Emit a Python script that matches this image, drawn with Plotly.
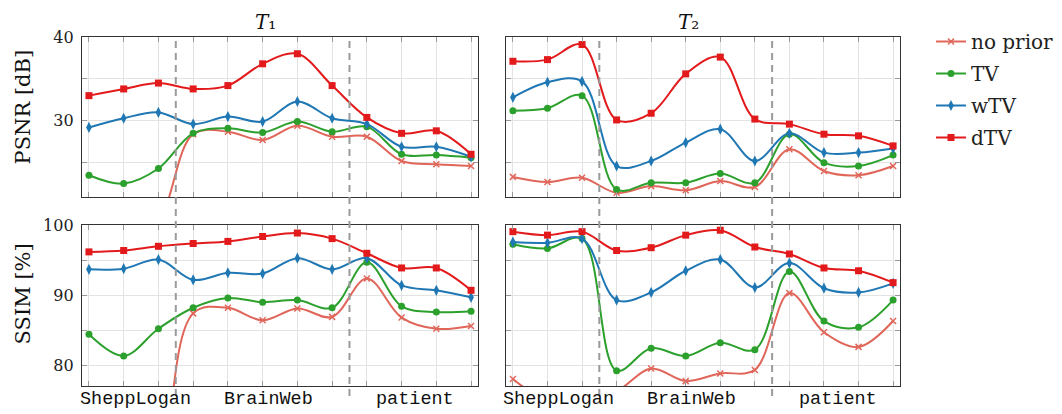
import plotly.graph_objects as go

# ---------------- data ----------------
x_idx = list(range(12))
series_names = ["no prior", "TV", "wTV", "dTV"]
series_colors = ["#e0665a", "#2ca02c", "#1f77b4", "#e31a1c"]
series_symbols = ["x-thin-open", "circle", "diamond-tall", "square"]
series_sizes = [6, 7, 8, 7]

psnr_t1_noprior = [16.0, 15.0, 18.0, 28.4, 28.7, 27.7, 29.4, 28.1, 28.1, 25.2, 24.8, 24.6]
psnr_t1_tv = [23.5, 22.5, 24.3, 28.5, 29.1, 28.6, 29.9, 28.7, 29.3, 26.0, 25.9, 25.6]
psnr_t1_wtv = [29.2, 30.3, 31.0, 29.6, 30.5, 29.9, 32.3, 30.3, 29.6, 26.9, 26.9, 25.7]
psnr_t1_dtv = [33.0, 33.8, 34.5, 33.8, 34.2, 36.8, 38.0, 34.2, 30.4, 28.5, 28.8, 26.0]

psnr_t2_noprior = [23.3, 22.7, 23.2, 21.4, 22.2, 21.7, 22.8, 22.1, 26.6, 24.0, 23.5, 24.6]
psnr_t2_tv = [31.2, 31.5, 33.0, 21.8, 22.6, 22.6, 23.7, 22.6, 28.4, 25.0, 24.6, 25.9]
psnr_t2_wtv = [32.8, 34.6, 34.7, 24.6, 25.2, 27.4, 29.0, 25.2, 28.5, 26.2, 26.2, 26.7]
psnr_t2_dtv = [37.1, 37.3, 39.1, 30.1, 30.9, 35.6, 37.6, 30.2, 29.6, 28.4, 28.2, 27.0]

ssim_t1_noprior = [55.0, 50.0, 62.0, 87.4, 88.2, 86.4, 88.1, 86.9, 92.4, 86.8, 85.2, 85.6]
ssim_t1_tv = [84.4, 81.3, 85.2, 88.2, 89.6, 89.0, 89.3, 88.2, 94.7, 88.4, 87.6, 87.7]
ssim_t1_wtv = [93.7, 93.8, 95.1, 92.2, 93.2, 93.1, 95.3, 93.7, 95.3, 91.4, 90.7, 89.7]
ssim_t1_dtv = [96.2, 96.4, 97.0, 97.4, 97.7, 98.4, 98.9, 98.1, 96.0, 93.9, 93.9, 90.7]

ssim_t2_noprior = [78.0, 75.0, 75.5, 76.3, 79.5, 77.7, 78.8, 79.3, 90.3, 84.7, 82.6, 86.3]
ssim_t2_tv = [97.3, 96.7, 98.1, 79.2, 82.4, 81.3, 83.2, 82.2, 93.4, 86.3, 85.4, 89.3]
ssim_t2_wtv = [97.6, 97.5, 98.1, 89.3, 90.4, 93.5, 95.1, 91.1, 94.6, 91.0, 90.4, 91.7]
ssim_t2_dtv = [99.1, 98.6, 99.1, 96.4, 96.8, 98.6, 99.3, 96.9, 95.9, 93.9, 93.5, 91.8]

group_labels = ["SheppLogan", "BrainWeb", "patient"]
group_label_pos = [1.33, 5.16, 9.4]
group_separators = [2.5, 7.5]

panel_titles = ["<i>T</i>₁", "<i>T</i>₂"]
psnr_ticks = [20, 30, 40]
psnr_minor = [25, 35]
ssim_ticks = [80, 90, 100]
ssim_minor = [85, 95]

panels = [
    ("x", "y", [psnr_t1_noprior, psnr_t1_tv, psnr_t1_wtv, psnr_t1_dtv]),
    ("x2", "y2", [psnr_t2_noprior, psnr_t2_tv, psnr_t2_wtv, psnr_t2_dtv]),
    ("x3", "y3", [ssim_t1_noprior, ssim_t1_tv, ssim_t1_wtv, ssim_t1_dtv]),
    ("x4", "y4", [ssim_t2_noprior, ssim_t2_tv, ssim_t2_wtv, ssim_t2_dtv]),
]

# ---------------- figure ----------------
# page body has an 8px margin: work in page pixels, convert to figure pixels
OFF = 8
W, H = 1062, 414
P_LEFT, P_RIGHT, P_TOP, P_BOTTOM = 82, 900, 37, 386   # plot-area bounds in page px
ML = P_LEFT - OFF
MT = P_TOP - OFF
MR = W - (P_RIGHT - OFF)
MB = H - (P_BOTTOM - OFF)
PW = P_RIGHT - P_LEFT
PH = P_BOTTOM - P_TOP


def px_x(p):
    return (p - P_LEFT) / PW


def px_y(p):
    return (P_BOTTOM - p) / PH


fig = go.Figure()
for pi, (xa, ya, data) in enumerate(panels):
    for si, vals in enumerate(data):
        fig.add_trace(go.Scatter(
            x=x_idx, y=vals, xaxis=xa, yaxis=ya,
            mode="lines+markers",
            name=series_names[si],
            legendgroup=series_names[si],
            showlegend=(pi == 0),
            line=dict(color=series_colors[si], width=2, shape="spline", smoothing=1.0),
            marker=dict(symbol=series_symbols[si], size=series_sizes[si],
                        color=series_colors[si],
                        line=dict(color=series_colors[si], width=1.5 if si == 0 else 0)),
            cliponaxis=True,
        ))

dom_x1 = [0, px_x(478)]
dom_x2 = [px_x(506), 1]
dom_y1 = [px_y(197), 1]
dom_y2 = [0, px_y(225)]

tickfont = dict(family="DejaVu Serif", size=16, color="#222")
common_x = dict(range=[-0.2, 11.2], tickvals=x_idx, showticklabels=False,
                showgrid=True, gridcolor="#e3e3e3", gridwidth=1,
                ticks="inside", ticklen=5, tickcolor="#999", tickwidth=1,
                showline=True, linecolor="#333", linewidth=1.3, mirror="ticks",
                zeroline=False, automargin=False)
common_y = dict(showgrid=True, gridcolor="#e3e3e3", gridwidth=1,
                ticks="inside", ticklen=5, tickcolor="#999", tickwidth=1,
                showline=True, linecolor="#333", linewidth=1.3, mirror="ticks",
                zeroline=False, tickfont=tickfont, ticklabelstandoff=4,
                automargin=False)
minor_style = dict(ticks="inside", ticklen=5, tickcolor="#999", tickwidth=1,
                   showgrid=True, gridcolor="#e3e3e3", gridwidth=1)

fig.update_layout(
    width=W, height=H,
    margin=dict(l=ML, r=MR, t=MT, b=MB, autoexpand=False),
    plot_bgcolor="white", paper_bgcolor="white",
    font=dict(family="DejaVu Serif", color="#222"),
    xaxis=dict(common_x, domain=dom_x1, anchor="y"),
    xaxis2=dict(common_x, domain=dom_x2, anchor="y2"),
    xaxis3=dict(common_x, domain=dom_x1, anchor="y3"),
    xaxis4=dict(common_x, domain=dom_x2, anchor="y4"),
    yaxis=dict(common_y, domain=dom_y1, anchor="x", range=[20.9, 40],
               tickvals=psnr_ticks, minor=dict(minor_style, tickvals=psnr_minor)),
    yaxis2=dict(common_y, domain=dom_y1, anchor="x2", range=[20.9, 40],
                tickvals=psnr_ticks, showticklabels=False,
                minor=dict(minor_style, tickvals=psnr_minor)),
    yaxis3=dict(common_y, domain=dom_y2, anchor="x3", range=[77, 100.05],
                tickvals=ssim_ticks, minor=dict(minor_style, tickvals=ssim_minor)),
    yaxis4=dict(common_y, domain=dom_y2, anchor="x4", range=[77, 100.05],
                tickvals=ssim_ticks, showticklabels=False,
                minor=dict(minor_style, tickvals=ssim_minor)),
    legend=dict(x=px_x(931), y=px_y(22), xanchor="left", yanchor="top",
                font=dict(family="DejaVu Serif", size=20, color="#222"),
                tracegroupgap=3, bgcolor="rgba(0,0,0,0)", borderwidth=0),
    showlegend=True,
)

# separators
for xa in ["x", "x2"]:
    for s in group_separators:
        fig.add_shape(type="line", xref=xa, yref="paper", x0=s, x1=s,
                      y0=px_y(396), y1=1, layer="above",
                      line=dict(color="#9a9a9a", width=2, dash="7px,5px"))

# group labels
for xa in ["x3", "x4"]:
    for lab, pos in zip(group_labels, group_label_pos):
        fig.add_annotation(x=pos, y=px_y(387), xref=xa, yref="paper",
                           text=lab, showarrow=False, xanchor="center", yanchor="top",
                           font=dict(family="Liberation Mono", size=18.5, color="#111"))

# panel titles
for t, cx in zip(panel_titles, [265, 688]):
    fig.add_annotation(x=px_x(cx), y=px_y(8.5), xref="paper", yref="paper",
                       text=t, showarrow=False, xanchor="center", yanchor="top",
                       borderpad=0,
                       font=dict(family="DejaVu Serif", size=20, color="#111"))

# y labels
for t, cy in zip(["PSNR [dB]", "SSIM [%]"], [107, 294]):
    fig.add_annotation(x=px_x(22.5), y=px_y(cy), xref="paper", yref="paper",
                       text=t, showarrow=False, textangle=-90,
                       xanchor="center", yanchor="middle",
                       font=dict(family="DejaVu Serif", size=21, color="#111"))

fig.write_html("out.html")
